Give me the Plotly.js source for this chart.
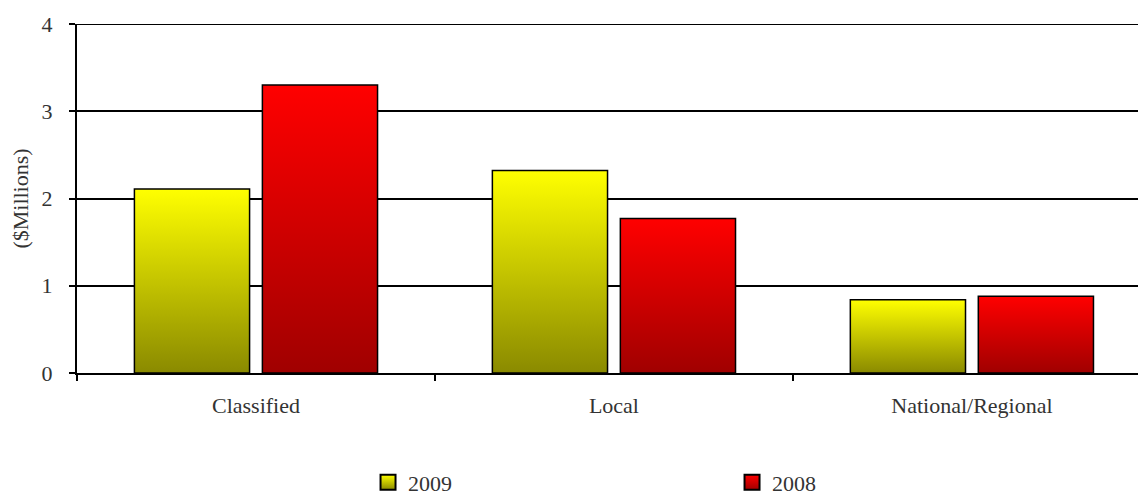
<!DOCTYPE html>
<html>
<head>
<meta charset="utf-8">
<script src="https://cdn.plot.ly/plotly-3.0.1.min.js"></script>
<style>
html,body{margin:0;padding:0;background:#fff;}
#chart{width:1138px;height:500px;}
</style>
</head>
<body>
<div id="chart"></div>
<script>
const categories = ["Classified", "Local", "National/Regional"];
const values2009 = [2.11, 2.32, 0.84];
const values2008 = [3.30, 1.77, 0.88];
const seriesNames = ["2009", "2008"];
const yTicks = [0, 1, 2, 3, 4];

const font = {family: "Liberation Serif, Times New Roman, serif", size: 22, color: "#333"};

const traces = [
  {type: "bar", name: seriesNames[0], x: categories, y: values2009,
   marker: {color: "#cccc00", line: {color: "#000", width: 1.5}}},
  {type: "bar", name: seriesNames[1], x: categories, y: values2008,
   marker: {color: "#d00000", line: {color: "#000", width: 1.5}}}
];

const yMax = yTicks[yTicks.length - 1];

const layout = {
  width: 1138, height: 500,
  margin: {l: 77, r: 0, t: 24, b: 127, autoexpand: false},
  paper_bgcolor: "#fff", plot_bgcolor: "#fff",
  font: font,
  barmode: "group",
  bargap: 0.285,
  bargroupgap: 0.1,
  showlegend: true,
  legend: {orientation: "h", xref: "container", yref: "container",
           x: 0.3234, xanchor: "left", y: 0.035, yanchor: "middle",
           entrywidth: 319, entrywidthmode: "pixels", font: font, itemwidth: 30,
           bgcolor: "rgba(0,0,0,0)"},
  xaxis: {type: "category", range: [-0.5, 2.464], showline: true, linecolor: "#000", linewidth: 2,
          ticks: "outside", tickson: "boundaries", ticklen: 6, tickcolor: "#000", tickwidth: 2,
          showgrid: false, tickfont: font, ticklabelstandoff: 12, fixedrange: true},
  yaxis: {range: [0, yMax], tickvals: yTicks, ticktext: yTicks.map(String),
          showline: true, linecolor: "#000", linewidth: 2,
          ticks: "outside", ticklen: 6, tickcolor: "#000", tickwidth: 2,
          showgrid: true, gridcolor: "#000", gridwidth: 2, zeroline: false,
          tickfont: font, ticklabelstandoff: 12,
          title: {text: "($Millions)", font: font, standoff: 7}},
  shapes: [{type: "line", xref: "paper", x0: 0, x1: 1, yref: "y", y0: yMax, y1: yMax,
            line: {color: "#000", width: 2}, layer: "below"}]
};

function addGradients(gd) {
  const svg = gd.querySelector("svg.main-svg");
  const ns = "http://www.w3.org/2000/svg";
  let defs = svg.querySelector("defs");
  if (!defs) { defs = document.createElementNS(ns, "defs"); svg.insertBefore(defs, svg.firstChild); }
  const grads = [["gradY", "#ffff00", "#8a8a00"], ["gradR", "#ff0000", "#a00000"]];
  grads.forEach(([id, c1, c2]) => {
    const g = document.createElementNS(ns, "linearGradient");
    g.setAttribute("id", id);
    g.setAttribute("x1", "0"); g.setAttribute("y1", "0");
    g.setAttribute("x2", "0"); g.setAttribute("y2", "1");
    const s1 = document.createElementNS(ns, "stop");
    s1.setAttribute("offset", "0"); s1.setAttribute("stop-color", c1);
    const s2 = document.createElementNS(ns, "stop");
    s2.setAttribute("offset", "1"); s2.setAttribute("stop-color", c2);
    g.appendChild(s1); g.appendChild(s2);
    defs.appendChild(g);
  });
  const ids = ["gradY", "gradR"];
  gd.querySelectorAll(".barlayer .trace").forEach((t, i) => {
    t.querySelectorAll(".point path").forEach(p => { p.style.fill = "url(#" + ids[i] + ")"; });
  });
  gd.querySelectorAll(".legend .traces").forEach((t, i) => {
    t.querySelectorAll(".legendpoints path").forEach(p => {
      p.setAttribute("d", "M7.5,7.5H-7.5V-7.5H7.5Z");
      p.style.fill = "url(#" + ids[i] + ")";
      p.style.strokeWidth = "2px";
    });
  });
}

Plotly.newPlot("chart", traces, layout, {displayModeBar: false, staticPlot: true})
  .then(gd => addGradients(gd));
</script>
</body>
</html>
